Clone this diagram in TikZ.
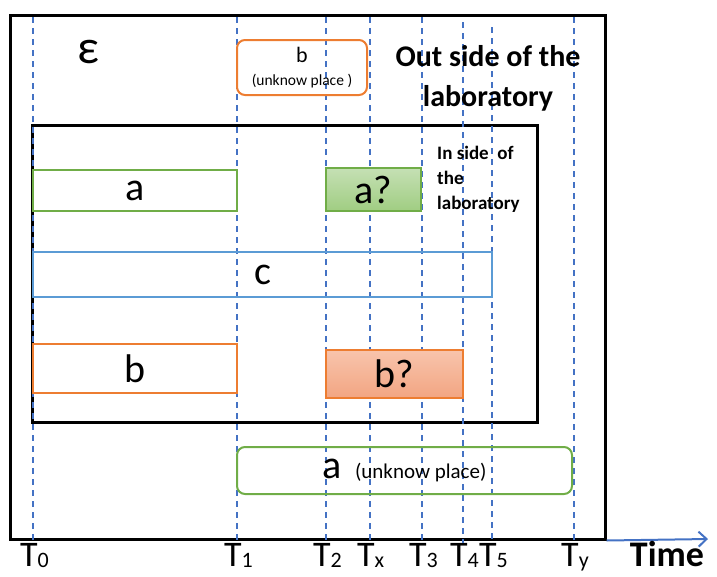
\documentclass[tikz,border=0pt]{standalone}
\usepackage{fontspec}
\setmainfont{Carlito}
\usetikzlibrary{arrows.meta}
\usetikzlibrary{positioning}

\definecolor{orangeO}{RGB}{237,125,49}
\definecolor{greenO}{RGB}{112,173,71}
\definecolor{blueO}{RGB}{91,155,213}
\definecolor{dashO}{RGB}{68,114,196}
\definecolor{greenTop}{RGB}{197,224,180}
\definecolor{greenBot}{RGB}{160,205,130}
\definecolor{orangeTop}{RGB}{248,196,172}
\definecolor{orangeBot}{RGB}{242,165,130}

\newcommand{\tsub}[1]{\raisebox{-1pt}{\fontsize{22}{22}\selectfont #1}}

\tikzset{
  frame/.style={draw=black, line width=3pt, inner sep=0pt},
  span/.style={rectangle, line width=2pt, inner sep=0pt, font=\fontsize{40}{40}\selectfont},
  timeline/.style={draw=dashO, line width=1.4pt, dash pattern=on 6pt off 5pt},
  tick/.style={inner sep=0pt, font=\fontsize{36}{36}\selectfont},
}

\begin{document}
\begin{tikzpicture}[x=1pt, y=-1pt]
  \useasboundingbox (0,0) rectangle (717,576);

  % les deux zones
  \node[frame, minimum width=595pt, minimum height=524pt] (outer) at (307.5,277) {};
  \node[frame, minimum width=505pt, minimum height=297pt] (inner) at (284.5,273.5) {};

  % lignes de temps
  \foreach \x/\n/\y in {33/0/17,237/1/17,326/2/17,370/x/17,422/3/17,463/4/22,492/5/27,574/y/17}{
    \node[tick, anchor=base west] (t\n) at (\x-13,566) {T\tsub{\n}};
    \coordinate (top\n) at (\x,\y);
    \draw[timeline] (top\n) -- (top\n |- t\n.north);
  }

  % intervalles
  \node[span, draw=orangeO, rounded corners=8pt, minimum width=130pt, minimum height=55pt,
        align=center] (bout) at (302,67.5)
        {{\fontsize{22}{22}\selectfont b}\\[-17pt]{\fontsize{15.5}{16}\selectfont (unknow place )}};
  \node[span, draw=greenO, minimum width=204pt, minimum height=41pt] (ain) at (135,190.5) {a};
  \node[span, draw=greenO, top color=greenTop, bottom color=greenBot,
        minimum width=95pt, minimum height=43pt] (aq) at (373.5,189.5) {a?};
  \node[span, draw=blueO, minimum width=459pt, minimum height=45pt] (cin) at (262.5,274.5) {c};
  \node[span, draw=orangeO, minimum width=204pt, minimum height=49pt] (bin) at (135,368.5) {b};
  \node[span, draw=orangeO, top color=orangeTop, bottom color=orangeBot,
        minimum width=137pt, minimum height=48pt] (bq) at (394.5,374) {b?};
  \node[span, draw=greenO, rounded corners=8pt, minimum width=335pt, minimum height=47pt]
        (aout) at (404.5,470.5) {a\,\,{\fontsize{21}{22}\selectfont (unknow place)}};

  % textes
  \node[font=\fontsize{48}{48}\selectfont] (eps) at (88,52) {ε};
  \node[align=center, font=\bfseries\fontsize{30}{40}\selectfont] (outlab) at (488,78)
        {Out side of the\\laboratory};
  \node[align=left, anchor=north west, inner sep=0pt, font=\bfseries\fontsize{19}{25}\selectfont]
        (inlab) at (437,146) {In side\ \ of\\the\\laboratory};

  % axe du temps
  \coordinate (tend) at (708,539);
  \draw[dashO, line width=2pt, -{Straight Barb[length=8pt,width=15pt]}] (outer.south east) -- (tend);
  \node[anchor=base, font=\bfseries\fontsize{36}{36}\selectfont] (time) at (667,566) {Time};
\end{tikzpicture}
\end{document}
